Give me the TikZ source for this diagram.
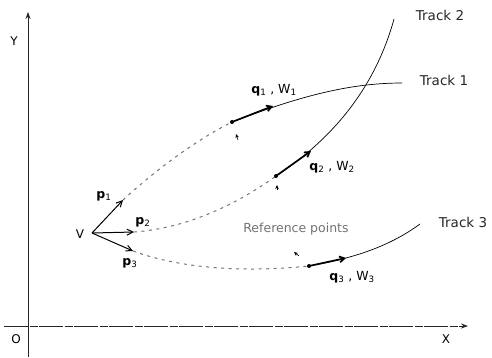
\documentclass[tikz,border=0pt]{standalone}
\usepackage{fontspec}
\setmainfont{DejaVu Sans}
\usetikzlibrary{arrows.meta}
\begin{document}
\begin{tikzpicture}[x=1pt,y=-1pt,
  axis/.style={line width=1pt,black!85,-{Stealth[length=7pt,width=5pt]}},
  trk/.style={line width=0.7pt},
  dsh/.style={line width=1pt,dash pattern=on 3pt off 4.5pt,black!55},
  seg/.style={line width=1.7pt,-{Straight Barb[length=5pt,width=6pt]}},
  vec/.style={line width=1pt,-{Straight Barb[length=6pt,width=6pt]}},
  mk/.style={line width=0.6pt,-{Stealth[length=4pt,width=3.5pt]}},
  lbl/.style={font=\fontsize{12}{14}\selectfont,inner sep=1pt},
  trklbl/.style={font=\fontsize{13.5}{16}\selectfont,inner sep=1pt,black!85},
  qlbl/.style={font=\fontsize{12.5}{15}\selectfont,inner sep=1pt}
]
\useasboundingbox (0,0) rectangle (492,357);
% axes
\coordinate (Yb) at (28,357);
\coordinate (Yt) at (28,12);
\coordinate (Xl) at (4,326);
\coordinate (Xr) at (468,326);
\draw[axis] (Yb) -- (Yt);
\draw[axis,dash pattern=on 24pt off 1.5pt on 8pt off 1.5pt] (Xl) -- (Xr);
% key points
\coordinate (V) at (92,233);
\coordinate (P1) at (123,200);
\coordinate (P2) at (134,232);
\coordinate (P3) at (133,251);
\coordinate (R1) at (232,122);
\coordinate (Q1) at (273,106);
\coordinate (E1) at (402,83);
\coordinate (R2) at (276,176);
\coordinate (Q2) at (311,151);
\coordinate (E2) at (394,19);
\coordinate (R3) at (309,266);
\coordinate (Q3) at (346,258);
\coordinate (E3) at (420,224);
% momentum vectors
\draw[vec] (V) -- (P1);
\draw[vec] (V) -- (P2);
\draw[vec] (V) -- (P3);
% dashed extrapolations
\draw[dsh] (P1) .. controls (160,166) and (200,138) .. (R1);
\draw[dsh] (P2) .. controls (190,228) and (240,202) .. (R2);
\draw[dsh] (P3) .. controls (185,270) and (250,272) .. (R3);
% tracks
\draw[trk] (R1) .. controls (300,96) and (350,83) .. (E1);
\draw[trk] (R2) .. controls (328,142) and (374,92) .. (E2);
\draw[trk] (R3) .. controls (355,258) and (390,246) .. (E3);
% thick segments
\draw[seg] (R1) -- (Q1);
\draw[seg] (R2) -- (Q2);
\draw[seg] (R3) -- (Q3);
\fill (R1) circle (2pt);
\fill (R2) circle (2pt);
\fill (R3) circle (2pt);
% small markers
\coordinate (M1a) at (238,140);
\coordinate (M1b) at (236,134);
\coordinate (M2a) at (277,190);
\coordinate (M2b) at (277,185);
\coordinate (M3a) at (299,256);
\coordinate (M3b) at (294,252);
\draw[mk] (M1a) -- (M1b);
\draw[mk] (M2a) -- (M2b);
\draw[mk] (M3a) -- (M3b);
% labels
\node[lbl] (lY) at (14,41) {Y};
\node[lbl] (lO) at (16,339) {O};
\node[lbl] (lX) at (446,339) {X};
\node[lbl] (lV) at (80,234) {V};
\node[qlbl] (lp1) at (104,196) {\textbf{p}\textsubscript{1}};
\node[qlbl] (lp2) at (143,222) {\textbf{p}\textsubscript{2}};
\node[qlbl] (lp3) at (130,263) {\textbf{p}\textsubscript{3}};
\node[qlbl] (lq1) at (274,90) {\textbf{q}\textsubscript{1} , W\textsubscript{1}};
\node[qlbl] (lq2) at (332,167) {\textbf{q}\textsubscript{2} , W\textsubscript{2}};
\node[qlbl] (lq3) at (352,277) {\textbf{q}\textsubscript{3} , W\textsubscript{3}};
\node[trklbl] (t2) at (440,15) {Track 2};
\node[trklbl] (t1) at (444,80) {Track 1};
\node[trklbl] (t3) at (463,222) {Track 3};
\node[lbl,black!55,font=\fontsize{12.5}{15}\selectfont] (rp) at (296,229) {Reference points};
\end{tikzpicture}
\end{document}
